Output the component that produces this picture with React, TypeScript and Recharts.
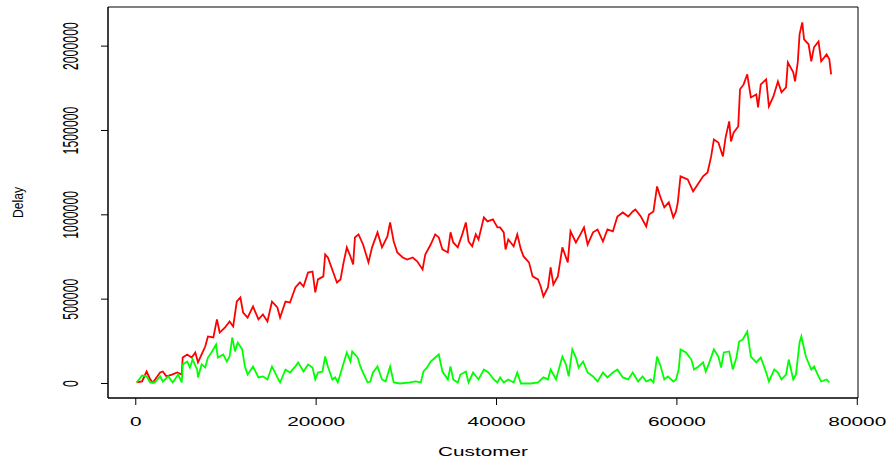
import React from 'react';
import { LineChart, Line, XAxis, YAxis, ReferenceArea } from 'recharts';

// customer index of each red sample and its delay
const redCustomer = [
  100, 700, 1200, 1600, 1900, 2700, 3000, 3400, 4000, 4600, 5100, 5200, 5700, 6200, 6600, 6900,
  7300, 7700, 8000, 8600, 9000, 9300, 9900, 10400, 10800, 11200, 11600, 11900, 12400, 13000, 13600,
  14100, 14600, 15100, 15700, 16000, 16600, 17100, 17700, 18200, 18600, 19100, 19600, 19900, 20200,
  20800, 21000, 21300, 21900, 22300, 22700, 23000, 23400, 23800, 24100, 24300, 24700, 25200, 25800,
  26200, 26800, 27300, 27900, 28200, 28600, 29000, 29600, 30100, 30700, 31200, 31800, 32100, 32700,
  33200, 33600, 34000, 34600, 34900, 35200, 35700, 36200, 36600, 36900, 37300, 37700, 38000, 38600,
  39000, 39600, 40100, 40400, 40800, 41000, 41300, 41900, 42300, 42700, 43000, 43600, 44000, 44600,
  44900, 45200, 45700, 46000, 46300, 46800, 47300, 47900, 48200, 48800, 49300, 49700, 50100, 50700,
  51200, 51800, 52300, 52900, 53400, 54000, 54600, 55100, 55400, 56000, 56600, 56900, 57400, 57800,
  58200, 58600, 59100, 59600, 59900, 60100, 60400, 61200, 61800, 62300, 62900, 63400, 63800, 64100,
  64600, 65100, 65400, 65800, 66000, 66300, 66800, 67000, 67400, 67800, 68200, 68800, 69000, 69300,
  69900, 70200, 70700, 71200, 71600, 72100, 72300, 72900, 73100, 73400, 73600, 73900, 74100, 74600,
  74900, 75200, 75700, 76000, 76600, 76900, 77100,
];
const redDelay = [
  6000, 12000, 71000, 24000, 6000, 65000, 71000, 42000, 53000, 65000, 53000, 154000, 172000, 154000,
  184000, 125000, 172000, 219000, 279000, 273000, 380000, 302000, 332000, 368000, 338000, 486000,
  510000, 421000, 391000, 457000, 380000, 409000, 368000, 486000, 451000, 391000, 486000, 480000,
  569000, 599000, 575000, 658000, 664000, 540000, 617000, 635000, 765000, 747000, 658000, 599000,
  617000, 706000, 807000, 753000, 706000, 866000, 884000, 824000, 718000, 807000, 896000, 807000,
  872000, 955000, 842000, 777000, 747000, 735000, 747000, 724000, 676000, 765000, 824000, 884000,
  866000, 795000, 777000, 896000, 836000, 807000, 884000, 955000, 842000, 813000, 884000, 854000,
  985000, 961000, 973000, 925000, 925000, 896000, 795000, 854000, 813000, 884000, 795000, 753000,
  718000, 635000, 617000, 575000, 516000, 569000, 688000, 587000, 635000, 807000, 718000, 902000,
  836000, 884000, 925000, 824000, 896000, 913000, 842000, 913000, 902000, 990000, 1014000, 990000,
  1020000, 1032000, 990000, 931000, 1002000, 1020000, 1168000, 1100000, 1044000, 1074000, 985000,
  1020000, 1074000, 1228000, 1210000, 1139000, 1180000, 1228000, 1251000, 1346000, 1447000, 1429000,
  1346000, 1459000, 1554000, 1435000, 1489000, 1524000, 1744000, 1773000, 1833000, 1696000, 1714000,
  1637000, 1773000, 1803000, 1643000, 1702000, 1791000, 1726000, 1756000, 1904000, 1845000, 1791000,
  1904000, 2070000, 2141000, 2040000, 2011000, 1910000, 1993000, 2028000, 1910000, 1951000, 1922000,
  1833000,
];

// customer index of each green sample and its delay
const greenCustomer = [
  100, 700, 1200, 1600, 2100, 2700, 3000, 3600, 4100, 4700, 5100, 5200, 5700, 6000, 6300, 6800, 6900,
  7300, 7700, 8000, 8400, 8900, 9100, 9700, 10100, 10400, 10700, 11000, 11300, 11800, 12100, 12400,
  13000, 13600, 14100, 14600, 15100, 15700, 16000, 16600, 17100, 17700, 18000, 18600, 19100, 19600,
  19900, 20200, 20700, 21000, 21300, 21800, 22100, 22400, 22900, 23400, 23800, 24000, 24600, 24900,
  25200, 25700, 26000, 26300, 26800, 27300, 27700, 28200, 28600, 29300, 30400, 31000, 31600, 31900,
  32300, 32700, 33200, 33600, 34000, 34600, 34900, 35200, 35700, 36000, 36600, 36900, 37400, 38000,
  38600, 39100, 39700, 40100, 40400, 40800, 41300, 41900, 42300, 42700, 43800, 44600, 45200, 45700,
  46000, 46600, 46900, 47300, 47700, 48000, 48400, 48800, 49100, 49600, 50100, 50700, 51200, 51800,
  52300, 52900, 53400, 54000, 54600, 55100, 55700, 56200, 56600, 57100, 57400, 57800, 58200, 58600,
  59000, 59600, 59900, 60200, 60400, 61000, 61600, 61900, 62400, 62900, 63200, 63600, 64100, 64600,
  64900, 65200, 65800, 66200, 66600, 66900, 67300, 67800, 68200, 68800, 69300, 69900, 70200, 70800,
  71200, 71600, 72100, 72400, 72900, 73200, 73600, 73800, 74300, 74900, 75200, 75700, 76000, 76600,
  76900,
];
const greenDelay = [
  6000, 47000, 42000, 6000, 6000, 42000, 12000, 42000, 6000, 53000, 6000, 113000, 130000, 95000,
  142000, 83000, 36000, 113000, 95000, 154000, 184000, 231000, 154000, 172000, 130000, 160000, 273000,
  190000, 243000, 202000, 101000, 53000, 101000, 36000, 42000, 24000, 101000, 36000, 6000, 83000,
  65000, 101000, 125000, 71000, 113000, 95000, 24000, 65000, 71000, 160000, 101000, 24000, 36000, 6000,
  95000, 184000, 130000, 190000, 154000, 101000, 65000, 6000, 12000, 65000, 101000, 24000, 12000,
  101000, 6000, 0, 6000, 12000, 6000, 71000, 95000, 130000, 154000, 172000, 71000, 24000, 101000,
  24000, 6000, 53000, 71000, 6000, 65000, 24000, 83000, 65000, 24000, 6000, 36000, 6000, 24000, 6000,
  65000, 0, 0, 6000, 36000, 24000, 83000, 24000, 83000, 160000, 113000, 42000, 202000, 154000, 95000,
  130000, 65000, 42000, 12000, 65000, 36000, 65000, 83000, 36000, 24000, 65000, 12000, 42000, 12000,
  24000, 6000, 160000, 101000, 24000, 42000, 12000, 24000, 83000, 202000, 184000, 142000, 83000,
  101000, 125000, 71000, 125000, 202000, 160000, 95000, 184000, 190000, 83000, 154000, 249000, 261000,
  308000, 160000, 125000, 154000, 65000, 12000, 83000, 65000, 24000, 53000, 142000, 24000, 53000,
  243000, 279000, 160000, 83000, 101000, 42000, 12000, 24000, 6000,
];

const xTicks = [0, 20000, 40000, 60000, 80000];
const yTicks = [0, 500000, 1000000, 1500000, 2000000];

const redData = redCustomer.map((x, i) => ({ x, y: redDelay[i] }));
const greenData = greenCustomer.map((x, i) => ({ x, y: greenDelay[i] }));

const FONT = '"Liberation Sans", Arial, Helvetica, sans-serif';
const X_DOMAIN: [number, number] = [-3080, 80080];
const Y_DOMAIN: [number, number] = [-86000, 2232000];

// the original picture is stretched sideways, so the text is too
const XTick = (props: any) => {
  const { x, payload } = props;
  return (
    <text
      transform={`translate(${x} 426) scale(1.67 1)`}
      textAnchor="middle"
      fontSize={12.5}
      fontFamily={FONT}
      fill="#000"
    >
      {payload.value}
    </text>
  );
};

const YTick = (props: any) => {
  const { y, payload } = props;
  return (
    <text
      transform={`translate(78 ${y}) scale(1.85 1) rotate(-90)`}
      textAnchor="middle"
      fontSize={12.3}
      fontFamily={FONT}
      fill="#000"
    >
      {payload.value}
    </text>
  );
};

const App: React.FC = () => {
  return (
    <div style={{ position: 'absolute', left: 0, top: 0, background: '#fff' }}>
      <LineChart width={886} height={458} margin={{ top: 7, right: 28, bottom: 0, left: 0 }}>
        <XAxis
          type="number"
          dataKey="x"
          domain={X_DOMAIN}
          ticks={xTicks}
          allowDataOverflow
          height={60}
          stroke="#000"
          tickSize={7}
          tick={<XTick />}
          label={{
            content: () => (
              <text
                transform="translate(483 456) scale(1.66 1)"
                textAnchor="middle"
                fontSize={12.5}
                fontFamily={FONT}
                fill="#000"
              >
                Customer
              </text>
            ),
          }}
        />
        <YAxis
          type="number"
          dataKey="y"
          domain={Y_DOMAIN}
          ticks={yTicks}
          allowDataOverflow
          width={108}
          stroke="#000"
          tickSize={7}
          tick={<YTick />}
          label={{
            content: () => (
              <text
                transform="translate(22.7 202.5) scale(1.27 1) rotate(-90)"
                textAnchor="middle"
                fontSize={12.1}
                fontFamily={FONT}
                fill="#000"
              >
                Delay
              </text>
            ),
          }}
        />
        <ReferenceArea
          x1={X_DOMAIN[0]}
          x2={X_DOMAIN[1]}
          y1={Y_DOMAIN[0]}
          y2={Y_DOMAIN[1]}
          fill="none"
          stroke="#000"
          strokeWidth={1}
        />
        <Line
          data={redData}
          dataKey="y"
          type="linear"
          stroke="#ff0000"
          strokeWidth={1.8}
          dot={false}
          isAnimationActive={false}
        />
        <Line
          data={greenData}
          dataKey="y"
          type="linear"
          stroke="#00ff00"
          strokeWidth={1.8}
          dot={false}
          isAnimationActive={false}
        />
      </LineChart>
    </div>
  );
};

export default App;
